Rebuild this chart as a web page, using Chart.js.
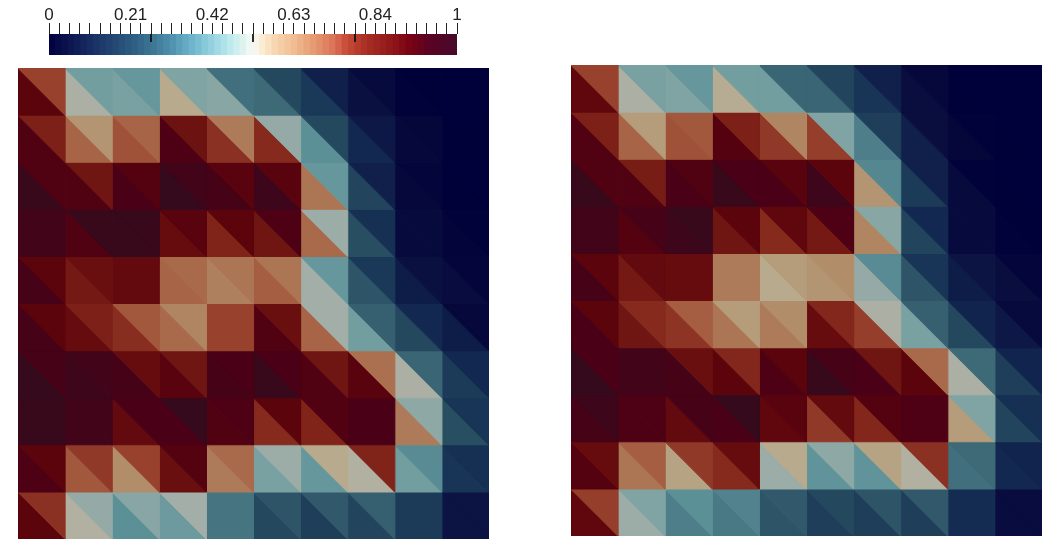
<!DOCTYPE html>
<html><head><meta charset="utf-8">
<script src="https://cdn.jsdelivr.net/npm/chart.js@4/dist/chart.umd.min.js"></script>
<style>
html,body{margin:0;padding:0;background:#fff;width:1060px;height:548px;overflow:hidden}
.w{position:absolute}
canvas{display:block}
</style></head><body>
<div class="w" style="left:0;top:0;width:1060px;height:55px"><canvas id="bar"></canvas></div>
<div class="w" style="left:18px;top:68px;width:471px;height:471px"><canvas id="left"></canvas></div>
<div class="w" style="left:571px;top:65px;width:471px;height:471px"><canvas id="right"></canvas></div>
<script>
// Each cell of the 10x10 grids is cut along its "\" diagonal: upper-right and lower-left triangle.
const leftUpper = [
 [.72,.43,.41,.45,.32,.25,.14,.07,.01,.00],
 [.81,.58,.66,.85,.62,.48,.25,.12,.05,.01],
 [.93,.84,.92,.97,.91,.91,.41,.14,.04,.00],
 [.97,.99,.99,.91,.90,.94,.49,.18,.07,.02],
 [.90,.86,.88,.65,.63,.63,.41,.20,.10,.04],
 [.90,.81,.68,.60,.72,.86,.50,.29,.16,.06],
 [.96,.97,.87,.84,.95,.95,.84,.64,.30,.16],
 [.99,.97,.95,1.0,.94,.90,.93,.95,.47,.19],
 [.90,.74,.72,.92,.65,.49,.55,.80,.38,.18],
 [.76,.48,.46,.50,.33,.27,.28,.29,.21,.11]];
const leftLower = [
 [.90,.51,.44,.55,.46,.31,.20,.10,.02,.00],
 [.93,.66,.69,.94,.76,.78,.39,.16,.06,.01],
 [.99,.93,.95,1.0,.96,.98,.63,.24,.06,.01],
 [.97,.93,.99,.87,.80,.84,.65,.26,.07,.03],
 [.96,.83,.88,.66,.61,.67,.50,.27,.13,.08],
 [.96,.87,.77,.65,.72,.93,.66,.43,.25,.13],
 [1.0,.98,.96,.91,.96,.99,.93,.91,.51,.21],
 [.99,.97,.88,.95,.93,.78,.80,.95,.62,.26],
 [.94,.68,.59,.86,.62,.44,.41,.52,.43,.19],
 [.90,.52,.39,.42,.33,.25,.22,.24,.21,.11]];
const rightUpper = [
 [.72,.44,.41,.43,.30,.24,.14,.06,.00,.00],
 [.81,.57,.68,.81,.60,.45,.22,.09,.02,.00],
 [.93,.82,.93,.95,.91,.90,.37,.14,.02,.00],
 [.97,.96,.99,.90,.89,.94,.46,.16,.07,.01],
 [.90,.88,.87,.62,.57,.59,.38,.19,.11,.04],
 [.90,.78,.67,.57,.59,.79,.51,.29,.15,.07],
 [.95,.97,.86,.79,.90,.96,.84,.65,.31,.15],
 [.98,.94,.96,1.0,.91,.88,.92,.94,.45,.18],
 [.87,.67,.74,.87,.55,.47,.56,.76,.31,.15],
 [.73,.45,.39,.36,.28,.25,.27,.28,.17,.08]];
const rightLower = [
 [.89,.51,.45,.54,.43,.30,.19,.09,.01,.00],
 [.93,.66,.69,.92,.74,.73,.35,.14,.05,.01],
 [.99,.93,.95,.99,.95,.98,.58,.21,.07,.01],
 [.97,.92,.98,.84,.78,.83,.60,.24,.07,.02],
 [.96,.83,.87,.62,.55,.58,.48,.27,.13,.09],
 [.95,.84,.75,.63,.62,.87,.73,.44,.25,.12],
 [1.0,.97,.96,.90,.94,.99,.95,.90,.51,.22],
 [.96,.94,.88,.95,.89,.74,.79,.94,.57,.24],
 [.92,.63,.56,.78,.49,.40,.40,.52,.32,.16],
 [.89,.49,.35,.34,.27,.22,.22,.22,.17,.08]];

const barLabels = ['0','0.21','0.42','0.63','0.84','1'];
const barMajorTicks = [0.25,0.5,0.75];
const barBands = 64;

// Colour ramp used by the triangles (muted, as shaded in the render)
const meshStops = [[0,'#00003a'],[.05,'#05063a'],[.1,'#0a1040'],[.15,'#11244e'],[.2,'#1a3858'],[.25,'#24485e'],[.3,'#3a6574'],[.35,'#4e7e8a'],[.4,'#60949a'],[.45,'#80a4a3'],[.5,'#a3aea8'],[.52,'#b2b0a0'],[.55,'#b8aa8c'],[.6,'#b08662'],[.65,'#a96a4b'],[.7,'#9e4c34'],[.75,'#8e3425'],[.8,'#80241a'],[.85,'#6c1210'],[.9,'#5c040c'],[.95,'#4a0016'],[1,'#340a1c']];
// Colour ramp of the legend bar
const barStops = [[0,'#00003f'],[.05,'#0c1550'],[.12,'#1b3568'],[.2,'#2b5a80'],[.25,'#3c7492'],[.3,'#4f90ad'],[.35,'#6db4cb'],[.4,'#94d2e0'],[.45,'#c2ecef'],[.48,'#e2f4ed'],[.5,'#f6fbf8'],[.52,'#fcefd8'],[.55,'#f8d9b5'],[.6,'#f1bd92'],[.65,'#e59a72'],[.7,'#da7257'],[.73,'#c94c38'],[.78,'#a82e24'],[.85,'#8c1418'],[.88,'#7c0412'],[.93,'#5c0222'],[1,'#450a2c']];

function hex(h){return [1,3,5].map(i=>parseInt(h.substr(i,2),16));}
function ramp(stops,v){
  for(let i=1;i<stops.length;i++){
    if(v<=stops[i][0]){
      const t=(v-stops[i-1][0])/(stops[i][0]-stops[i-1][0]);
      const a=hex(stops[i-1][1]),b=hex(stops[i][1]);
      return 'rgb('+a.map((x,k)=>Math.round(x+(b[k]-x)*t)).join(',')+')';
    }
  }
  return stops[stops.length-1][1];
}
function tri(points,v){
  const col=ramp(meshStops,v);
  return {data:points.concat([points[0]]).map(p=>({x:p[0],y:p[1]})),
    fill:'shape',backgroundColor:col,borderColor:col,borderWidth:1.1,pointRadius:0,tension:0,
    borderJoinStyle:'bevel'};
}
function mesh(id,upper,lower){
  const sets=[];
  upper.forEach((row,r)=>row.forEach((v,c)=>{
    sets.push(tri([[c,r],[c+1,r],[c+1,r+1]],v));
    sets.push(tri([[c,r],[c,r+1],[c+1,r+1]],lower[r][c]));
  }));
  new Chart(document.getElementById(id),{type:'line',data:{datasets:sets},options:{
    responsive:true,maintainAspectRatio:false,animation:false,events:[],
    layout:{padding:0},
    plugins:{legend:{display:false},tooltip:{enabled:false}},
    scales:{x:{type:'linear',min:0,max:10,display:false},y:{type:'linear',min:0,max:10,reverse:true,display:false}}
  }});
}
mesh('left',leftUpper,leftLower);
mesh('right',rightUpper,rightLower);

const bandIdx=Array.from({length:barBands},(_,i)=>String(i));
new Chart(document.getElementById('bar'),{
  type:'bar',
  data:{labels:bandIdx,datasets:[
    {type:'bar',order:2,xAxisID:'x',yAxisID:'y',data:bandIdx.map(()=>1),
     backgroundColor:bandIdx.map((_,i)=>ramp(barStops,(i+.5)/barBands)),
     barPercentage:1,categoryPercentage:1,grouped:false,borderWidth:0,inflateAmount:.5},
    ...barMajorTicks.map(t=>({type:'line',order:1,xAxisID:'t',yAxisID:'y',
      data:[{x:t,y:1},{x:t,y:.62}],borderColor:'#111',borderWidth:1,pointRadius:0}))
  ]},
  options:{responsive:true,maintainAspectRatio:false,animation:false,events:[],
    datasets:{bar:{barPercentage:1,categoryPercentage:1}},
    layout:{padding:{left:49,right:603,top:0,bottom:0}},
    plugins:{legend:{display:false},tooltip:{enabled:false}},
    scales:{
      x:{type:'category',display:false,offset:true,grid:{offset:true}},
      y:{type:'linear',min:0,max:1,display:false},
      t:{type:'linear',position:'top',min:0,max:1,offset:false,
        afterFit(s){s.height=34;s.paddingLeft=0;s.paddingRight=0;},
        border:{display:false},
        grid:{offset:false,drawOnChartArea:false,drawTicks:true,tickLength:11,color:'#222',lineWidth:1},
        ticks:{stepSize:.025,autoSkip:false,maxRotation:0,minRotation:0,padding:-3,color:'#222',
          font:{family:'"Liberation Sans"',size:17},
          callback(v,i){return i%8===0?barLabels[i/8]:'';}}
      }
    }
  }
});
</script></body></html>
